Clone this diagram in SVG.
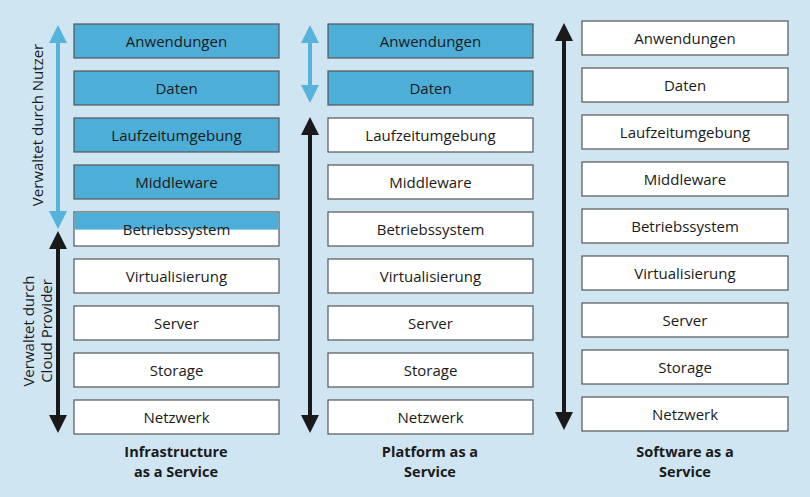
<svg xmlns="http://www.w3.org/2000/svg" width="810" height="497" viewBox="0 0 810 497">
<defs>
<marker id="ab" viewBox="0 0 10 10" refX="5" refY="5" markerWidth="4.5" markerHeight="4.5" orient="auto-start-reverse"><path d="M0,0L10,5L0,10z" fill="#1a1a1a"/></marker>
<marker id="au" viewBox="0 0 10 10" refX="5" refY="5" markerWidth="4.5" markerHeight="4.5" orient="auto-start-reverse"><path d="M0,0L10,5L0,10z" fill="#55b3dc"/></marker>
</defs>
<style>
.w{fill:#fff;stroke:#555;stroke-width:1.2}
.b{fill:#4daed8;stroke:#555;stroke-width:1.2}
text{font-family:"Open Sans","Noto Sans",sans-serif;font-size:15px;fill:#1a1a1a;text-anchor:middle;dominant-baseline:central}
.h{font-weight:bold;font-size:14.5px}
.lk{stroke:#1a1a1a;stroke-width:4;fill:none}
.lu{stroke:#55b3dc;stroke-width:4;fill:none}
</style>
<rect width="810" height="497" fill="#cfe5f2"/>
<g id="connectors">
<line class="lu" x1="58" y1="34" x2="58" y2="220" marker-start="url(#au)" marker-end="url(#au)"/>
<line class="lk" x1="58" y1="240" x2="58" y2="424" marker-start="url(#ab)" marker-end="url(#ab)"/>
<line class="lu" x1="310" y1="34" x2="310" y2="94" marker-start="url(#au)" marker-end="url(#au)"/>
<line class="lk" x1="310" y1="126" x2="310" y2="424" marker-start="url(#ab)" marker-end="url(#ab)"/>
<line class="lk" x1="564" y1="32" x2="564" y2="421" marker-start="url(#ab)" marker-end="url(#ab)"/>
</g>
<g id="labels">
<text transform="translate(37,125) rotate(-90)">Verwaltet durch Nutzer</text>
<text transform="translate(28,331) rotate(-90)">Verwaltet durch</text>
<text transform="translate(46,331) rotate(-90)">Cloud Provider</text>
<text class="h" x="176" y="451">Infrastructure</text>
<text class="h" x="176" y="471">as a Service</text>
<text class="h" x="430" y="451">Platform as a</text>
<text class="h" x="430" y="471">Service</text>
<text class="h" x="685" y="451">Software as a</text>
<text class="h" x="685" y="471">Service</text>
</g>
<g id="iaas">
<g id="i1"><rect class="b" x="74" y="24" width="205" height="34"/><text x="176.5" y="41">Anwendungen</text></g>
<g id="i2"><rect class="b" x="74" y="71" width="205" height="34"/><text x="176.5" y="88">Daten</text></g>
<g id="i3"><rect class="b" x="74" y="118" width="205" height="34"/><text x="176.5" y="135">Laufzeitumgebung</text></g>
<g id="i4"><rect class="b" x="74" y="165" width="205" height="34"/><text x="176.5" y="182">Middleware</text></g>
<g id="i5"><rect class="w" x="74" y="212" width="205" height="34"/><rect x="74.6" y="212.6" width="203.8" height="17" fill="#4daed8"/><text x="176.5" y="229">Betriebssystem</text></g>
<g id="i6"><rect class="w" x="74" y="259" width="205" height="34"/><text x="176.5" y="276">Virtualisierung</text></g>
<g id="i7"><rect class="w" x="74" y="306" width="205" height="34"/><text x="176.5" y="323">Server</text></g>
<g id="i8"><rect class="w" x="74" y="353" width="205" height="34"/><text x="176.5" y="370">Storage</text></g>
<g id="i9"><rect class="w" x="74" y="400" width="205" height="34"/><text x="176.5" y="417">Netzwerk</text></g>
</g>
<g id="paas">
<g id="p1"><rect class="b" x="328" y="24" width="205" height="34"/><text x="430.5" y="41">Anwendungen</text></g>
<g id="p2"><rect class="b" x="328" y="71" width="205" height="34"/><text x="430.5" y="88">Daten</text></g>
<g id="p3"><rect class="w" x="328" y="118" width="205" height="34"/><text x="430.5" y="135">Laufzeitumgebung</text></g>
<g id="p4"><rect class="w" x="328" y="165" width="205" height="34"/><text x="430.5" y="182">Middleware</text></g>
<g id="p5"><rect class="w" x="328" y="212" width="205" height="34"/><text x="430.5" y="229">Betriebssystem</text></g>
<g id="p6"><rect class="w" x="328" y="259" width="205" height="34"/><text x="430.5" y="276">Virtualisierung</text></g>
<g id="p7"><rect class="w" x="328" y="306" width="205" height="34"/><text x="430.5" y="323">Server</text></g>
<g id="p8"><rect class="w" x="328" y="353" width="205" height="34"/><text x="430.5" y="370">Storage</text></g>
<g id="p9"><rect class="w" x="328" y="400" width="205" height="34"/><text x="430.5" y="417">Netzwerk</text></g>
</g>
<g id="saas">
<g id="s1"><rect class="w" x="582" y="21" width="206" height="34"/><text x="685" y="38">Anwendungen</text></g>
<g id="s2"><rect class="w" x="582" y="68" width="206" height="34"/><text x="685" y="85">Daten</text></g>
<g id="s3"><rect class="w" x="582" y="115" width="206" height="34"/><text x="685" y="132">Laufzeitumgebung</text></g>
<g id="s4"><rect class="w" x="582" y="162" width="206" height="34"/><text x="685" y="179">Middleware</text></g>
<g id="s5"><rect class="w" x="582" y="209" width="206" height="34"/><text x="685" y="226">Betriebssystem</text></g>
<g id="s6"><rect class="w" x="582" y="256" width="206" height="34"/><text x="685" y="273">Virtualisierung</text></g>
<g id="s7"><rect class="w" x="582" y="303" width="206" height="34"/><text x="685" y="320">Server</text></g>
<g id="s8"><rect class="w" x="582" y="350" width="206" height="34"/><text x="685" y="367">Storage</text></g>
<g id="s9"><rect class="w" x="582" y="397" width="206" height="34"/><text x="685" y="414">Netzwerk</text></g>
</g>
</svg>
